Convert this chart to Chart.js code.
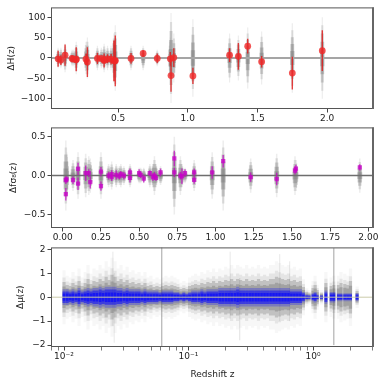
<!DOCTYPE html>
<html>
<head>
<meta charset="utf-8">
<script src="https://cdn.jsdelivr.net/npm/chart.js@4.4.0/dist/chart.umd.min.js"></script>
<style>
  body { margin: 0; background: #fff; width: 384px; height: 383px; position: relative; overflow: hidden; }
  .panel { position: absolute; left: 0; width: 384px; }
</style>
</head>
<body>
<div class="panel" style="top:0;height:130px"><canvas id="cH"></canvas></div>
<div class="panel" style="top:120px;height:125px"><canvas id="cF"></canvas></div>
<div class="panel" style="top:240px;height:143px"><canvas id="cM"></canvas></div>
<script>
// ---- panel 1: Delta H(z) ----
const hZ      = [0.07, 0.09, 0.12, 0.17, 0.179, 0.199, 0.2, 0.27, 0.28, 0.352, 0.38, 0.4, 0.4004, 0.4247, 0.4497, 0.47, 0.4783, 0.48, 0.593, 0.68, 0.781, 0.875, 0.88, 0.9, 1.037, 1.3, 1.363, 1.43, 1.53, 1.75, 1.965];
const hVal    = [-2, -5, 7, -1, -3, -4, -3, -3, -10, -1, -1, -6, -4, -2, -3, -7, -6, -7, -1, 11, -1, -2, -43, 1, -44, 7, 4, 29, -9, -37, 18];
const hErr    = [19.6, 12, 26, 8, 4, 5, 29.6, 14, 36.6, 14, 2, 17, 10, 11, 13, 50, 9, 62, 13, 8, 12, 17, 40, 23, 20, 17, 33, 18, 14, 40, 50];
const hSpread = [25, 25, 35, 20, 20, 30, 40, 40, 50, 30, 25, 35, 30, 30, 30, 60, 30, 80, 30, 30, 20, 50, 110, 60, 95, 60, 55, 75, 65, 85, 100];
const hTicksX = [0.5, 1.0, 1.5, 2.0];
const hTicksY = [-100, -50, 0, 50, 100];

// ---- panel 2: Delta f sigma8(z) ----
const fZ      = [0.02, 0.02, 0.025, 0.067, 0.10, 0.10, 0.15, 0.17, 0.18, 0.25, 0.25, 0.30, 0.32, 0.32, 0.35, 0.37, 0.38, 0.40, 0.44, 0.44, 0.50, 0.51, 0.53, 0.57, 0.59, 0.60, 0.61, 0.64, 0.73, 0.73, 0.77, 0.78, 0.80, 0.86, 0.86, 0.978, 1.05, 1.23, 1.40, 1.52, 1.526, 1.944];
const fVal    = [-0.24, -0.06, -0.05, -0.06, 0.085, -0.105, 0.03, 0.03, -0.085, 0.05, -0.135, 0.0, 0.02, -0.02, 0.01, -0.01, 0.02, 0.0, -0.03, 0.04, 0.03, 0.01, -0.04, 0.03, -0.02, 0.0, -0.03, 0.04, 0.22, 0.04, 0.0, -0.01, 0.03, 0.04, -0.055, 0.04, 0.185, -0.02, -0.045, 0.065, 0.09, 0.105];
const fErr    = [0.08, 0.05, 0.04, 0.05, 0.08, 0.08, 0.10, 0.05, 0.08, 0.06, 0.06, 0.05, 0.05, 0.05, 0.06, 0.04, 0.04, 0.05, 0.06, 0.05, 0.05, 0.04, 0.05, 0.04, 0.05, 0.05, 0.04, 0.05, 0.10, 0.06, 0.05, 0.10, 0.05, 0.05, 0.05, 0.08, 0.08, 0.06, 0.08, 0.05, 0.05, 0.04];
const fSpread = [0.45, 0.30, 0.30, 0.20, 0.30, 0.25, 0.28, 0.25, 0.22, 0.30, 0.25, 0.15, 0.18, 0.15, 0.15, 0.12, 0.15, 0.12, 0.15, 0.15, 0.10, 0.10, 0.10, 0.15, 0.15, 0.25, 0.15, 0.12, 0.50, 0.30, 0.25, 0.15, 0.10, 0.20, 0.15, 0.30, 0.45, 0.22, 0.28, 0.25, 0.20, 0.22];
const fTicksX = [0, 0.25, 0.5, 0.75, 1.0, 1.25, 1.5, 1.75, 2.0];
const fTicksY = [-0.5, 0, 0.5];

// ---- panel 3: Delta mu(z), read as columns of spread ----
const muZ = [0.0100, 0.0106, 0.0112, 0.0118, 0.0125, 0.0132, 0.0140, 0.0148, 0.0156, 0.0165, 0.0174, 0.0184, 0.0195, 0.0206, 0.0218, 0.0230, 0.0243, 0.0257, 0.0272, 0.0287,
  0.0304, 0.0321, 0.0339, 0.0358, 0.0379, 0.0400, 0.0423, 0.0447, 0.0472, 0.0499, 0.0528, 0.0558, 0.0589, 0.0623, 0.0658, 0.0696, 0.0735, 0.0777, 0.0821, 0.0868,
  0.0917, 0.0969, 0.102, 0.108, 0.114, 0.121, 0.128, 0.135, 0.143, 0.151, 0.159, 0.168, 0.178, 0.188, 0.199, 0.210, 0.222, 0.235, 0.248, 0.262,
  0.277, 0.293, 0.310, 0.327, 0.346, 0.365, 0.386, 0.408, 0.431, 0.456, 0.482, 0.509, 0.538, 0.569, 0.601, 0.635, 0.671, 0.709, 0.749, 0.792,
  0.837, 0.890, 0.930, 1.00, 1.04, 1.08, 1.17, 1.27, 1.40, 1.47, 1.60, 1.68, 1.80, 1.90, 2.00, 2.26];
const muSpread = [0.75, 0.60, 0.55, 0.70, 0.60, 0.80, 0.55, 0.70, 0.90, 0.65, 0.80, 0.75, 0.90, 0.80, 1.00, 0.85, 1.10, 1.00, 0.80, 0.90,
  0.75, 0.85, 0.70, 0.75, 0.65, 0.70, 0.60, 0.70, 0.55, 0.60, 0.50, 0.55, 0.50, 0.55, 0.60, 0.55, 0.60, 0.55, 0.50, 0.40,
  0.45, 0.40, 0.55, 0.60, 0.65, 0.60, 0.70, 0.65, 0.75, 0.70, 0.80, 0.70, 0.80, 0.75, 0.85, 0.80, 0.90, 0.80, 0.90, 0.85,
  0.80, 0.90, 0.80, 0.85, 0.80, 0.90, 0.80, 0.85, 0.80, 0.90, 0.90, 1.00, 0.95, 0.90, 0.85, 0.90, 0.80, 0.85, 0.75, 0.80,
  0.50, 0.25, 0.20, 0.45, 0.60, 0.35, 0.20, 0.70, 0.55, 0.60, 0.60, 0.70, 0.65, 0.60, 0.80, 0.30];
const muBlue = [0.30, 0.30, 0.25, 0.30, 0.25, 0.35, 0.25, 0.30, 0.35, 0.30, 0.35, 0.35, 0.40, 0.35, 0.40, 0.40, 0.40, 0.40, 0.35, 0.35,
  0.30, 0.35, 0.30, 0.30, 0.30, 0.30, 0.25, 0.30, 0.25, 0.25, 0.25, 0.25, 0.20, 0.25, 0.25, 0.25, 0.25, 0.20, 0.20, 0.15,
  0.20, 0.15, 0.20, 0.25, 0.25, 0.25, 0.30, 0.25, 0.30, 0.30, 0.30, 0.30, 0.35, 0.35, 0.35, 0.35, 0.35, 0.35, 0.40, 0.35,
  0.35, 0.35, 0.35, 0.35, 0.35, 0.35, 0.35, 0.35, 0.35, 0.35, 0.35, 0.35, 0.35, 0.35, 0.35, 0.35, 0.30, 0.30, 0.30, 0.30,
  0.20, 0.10, 0.08, 0.15, 0.20, 0.10, 0.08, 0.25, 0.20, 0.20, 0.15, 0.15, 0.15, 0.15, 0.15, 0.15];
const muSpikeZ  = [0.0247, 0.0253, 0.061, 0.216, 0.258, 0.54, 0.65, 1.47];
const muSpikeLo = [-1.2, -1.9, -2.1, -0.9, -1.8, -1.0, -1.0, -2.0];
const muSpikeHi = [1.9, 1.0, 2.1, 1.9, 0.8, 1.8, 1.5, 2.05];
const muSpikeAlpha = [0.15, 0.15, 0.6, 0.15, 0.2, 0.15, 0.15, 0.6];
const muTicksMajor = [0.01, 0.1, 1];
const muTickLabels = ['10⁻²', '10⁻¹', '10⁰'];
const muTicksMinor = [0.008, 0.009, 0.02, 0.03, 0.04, 0.05, 0.06, 0.07, 0.08, 0.09, 0.2, 0.3, 0.4, 0.5, 0.6, 0.7, 0.8, 0.9, 2, 3];
const muTicksY = [-2, -1, 0, 1, 2];

Chart.defaults.font.family = 'DejaVu Sans';
Chart.defaults.font.size = 9;
Chart.defaults.color = '#222';
Chart.defaults.animation = false;

// vertical segments at each x, separated by gaps
function segs(xs, lo, hi) {
  const out = [];
  xs.forEach((x, i) => { out.push({x, y: lo[i]}, {x, y: hi[i]}, {x, y: null}); });
  return out;
}
function bars(xs, lo, hi, color, width, order) {
  return { type: 'line', data: segs(xs, lo, hi), borderColor: color, borderWidth: width,
           pointRadius: 0, spanGaps: false, order };
}
// soft violins around zero, stacked translucent layers
function violins(xs, spread, layers, rgb, order) {
  return layers.map(([k, w, a], i) => bars(xs, spread.map(v => -k * v), spread.map(v => k * v), `rgba(${rgb},${a})`, w, order + i));
}
function zeroLine(x0, x1, color, width, order) {
  return { type: 'line', data: [{x: x0, y: 0}, {x: x1, y: 0}], borderColor: color, borderWidth: width, pointRadius: 0, order };
}

const frame = {
  id: 'frame',
  afterDatasetsDraw(chart) {
    const {ctx, chartArea: a} = chart;
    ctx.save();
    ctx.strokeStyle = '#555';
    ctx.lineWidth = 1;
    ctx.strokeRect(a.left + 0.5, a.top + 0.5, a.right - a.left - 1, a.bottom - a.top - 1);
    ctx.strokeStyle = '#666';
    ctx.lineWidth = 2;
    ctx.beginPath(); ctx.moveTo(a.right - 1, a.top); ctx.lineTo(a.right - 1, a.bottom); ctx.stroke();
    ctx.restore();
  }
};

function makeChart(id, cfg) {
  const sx = cfg.x, sy = cfg.y;
  return new Chart(document.getElementById(id), {
    type: 'scatter',
    data: { datasets: cfg.datasets },
    options: {
      responsive: true, maintainAspectRatio: false,
      layout: { padding: { top: cfg.padTop, right: 10, left: cfg.padLeft, bottom: 0 } },
      plugins: { legend: { display: false }, tooltip: { enabled: false } },
      scales: {
        x: {
          type: sx.type || 'linear', min: sx.min, max: sx.max,
          afterBuildTicks: s => { s.ticks = sx.ticks.map(v => ({value: v})); },
          afterFit: s => { s.height = sx.height; },
          ticks: { autoSkip: false, maxRotation: 0, padding: 1, callback: sx.label },
          grid: { drawOnChartArea: false, tickLength: 3.5, tickColor: '#444', tickWidth: sx.tickWidth || 1 },
          border: { display: false },
          title: sx.title ? { display: true, text: sx.title, font: { size: 9 }, padding: { top: 2, bottom: 3 } } : { display: false }
        },
        y: {
          min: sy.min, max: sy.max,
          afterBuildTicks: s => { s.ticks = sy.ticks.map(v => ({value: v})); },
          afterFit: s => { s.width = 51 - cfg.padLeft; },
          ticks: { padding: 2, callback: sy.label },
          grid: { drawOnChartArea: false, tickLength: 3.5, tickColor: '#444' },
          border: { display: false },
          title: { display: true, text: sy.title, font: { size: 9 }, padding: { top: 0, bottom: 0 } }
        }
      }
    },
    plugins: [frame]
  });
}

// panel 1
makeChart('cH', {
  padTop: 6, padLeft: 6,
  x: { min: 0.019, max: 2.336, ticks: hTicksX, height: 21, label: v => v.toFixed(1) },
  y: { min: -125, max: 124, ticks: hTicksY, title: 'ΔH(z)', label: v => v < 0 ? '−' + (-v) : String(v) },
  datasets: [
    { type: 'scatter', data: hZ.map((z, i) => ({x: z, y: hVal[i]})), pointRadius: 3.4,
      backgroundColor: 'rgba(240,40,40,0.8)', borderWidth: 0, order: 1 },
    bars(hZ, hVal.map((v, i) => v - hErr[i]), hVal.map((v, i) => v + hErr[i]), 'rgba(225,20,20,0.8)', 1.4, 2),
    zeroLine(0.019, 2.336, 'rgba(165,165,165,1)', 2, 3),
    ...violins(hZ, hSpread, [[0.2, 4.4, 0.3], [0.4, 3.8, 0.3], [0.6, 3, 0.25], [0.8, 2.2, 0.18], [1.0, 1.2, 0.12]], '105,105,105', 10)
  ]
});

// panel 2
makeChart('cF', {
  padTop: 6, padLeft: 8,
  x: { min: -0.077, max: 2.037, ticks: fTicksX, height: 17, label: v => v.toFixed(2) },
  y: { min: -0.675, max: 0.62, ticks: fTicksY, title: 'Δfσ₈(z)', label: v => v < 0 ? '−' + (-v).toFixed(1) : v.toFixed(1) },
  datasets: [
    { type: 'scatter', data: fZ.map((z, i) => ({x: z, y: fVal[i]})), pointStyle: 'rect', pointRadius: 3,
      backgroundColor: 'rgba(200,0,200,0.75)', borderWidth: 0, order: 1 },
    bars(fZ, fVal.map((v, i) => v - fErr[i]), fVal.map((v, i) => v + fErr[i]), 'rgba(200,0,200,0.7)', 1.4, 2),
    zeroLine(-0.077, 2.037, 'rgba(110,110,110,1)', 1.5, 3),
    ...violins(fZ, fSpread, [[0.2, 5, 0.3], [0.4, 4.5, 0.3], [0.6, 3.5, 0.25], [0.8, 2.5, 0.18], [1.0, 1.5, 0.12]], '105,105,105', 10)
  ]
});

// panel 3
const muAllTicks = [...muTicksMajor, ...muTicksMinor];
makeChart('cM', {
  padTop: 5, padLeft: 15,
  x: { type: 'logarithmic', min: 0.00786, max: 3.09, ticks: muAllTicks, height: 36, title: 'Redshift z',
       tickWidth: c => muTicksMajor.includes(c.tick && c.tick.value) ? 1 : 0.7,
       label: v => { const i = muTicksMajor.indexOf(v); return i >= 0 ? muTickLabels[i] : ''; } },
  y: { min: -2.08, max: 2.08, ticks: muTicksY, title: 'Δμ(z)', label: v => v < 0 ? '−' + (-v) : String(v) },
  datasets: [
    zeroLine(0.00786, 3.09, 'rgba(200,200,165,0.95)', 1, 1),
    ...violins(muZ, muBlue, [[0.5, 2.6, 0.6], [0.8, 3, 0.5], [1.1, 3, 0.25]], '0,0,255', 2),
    ...muSpikeZ.map((z, i) => bars([z], [muSpikeLo[i]], [muSpikeHi[i]], `rgba(100,100,100,${muSpikeAlpha[i]})`, 1, 6)),
    ...violins(muZ, muSpread, [[0.6, 3.2, 0.45], [0.85, 3.2, 0.35], [1.1, 3.2, 0.15], [1.5, 3.2, 0.06]], '125,125,125', 20)
  ]
});
</script>
</body>
</html>
